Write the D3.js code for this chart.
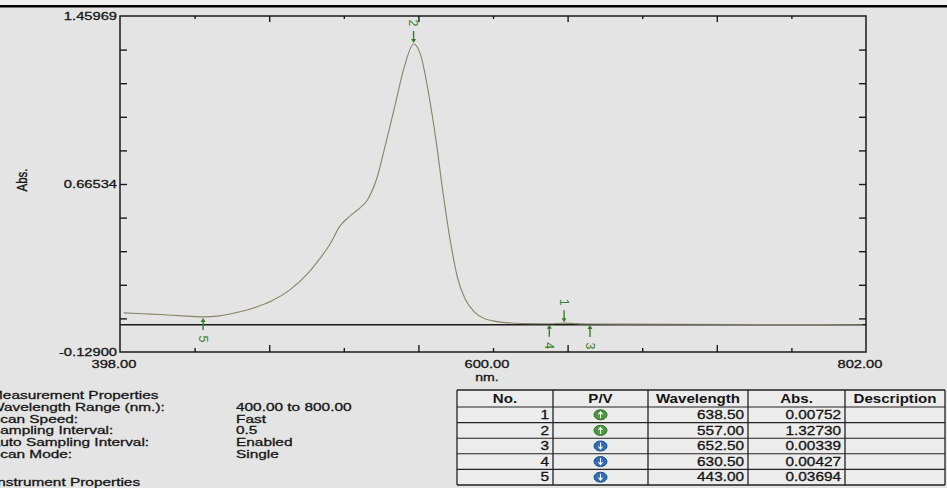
<!DOCTYPE html>
<html>
<head>
<meta charset="utf-8">
<script src="https://cdn.jsdelivr.net/npm/d3@7"></script>
<style>
  body { margin: 0; background: #e4e4e4; }
  svg { display: block; }
  text { font-family: "Liberation Sans", Arial, sans-serif; fill: #151515; }
  .lbl { font-size: 11.5px; stroke: #151515; stroke-width: 0.3px; }
  .mark { fill: #347f26; font-size: 12.5px; }
</style>
</head>
<body>
<div id="chart"></div>
<script>
// spectrum
var wavelengths = [400, 410, 420, 430, 443, 452, 460, 470, 480, 490, 500, 506, 512, 517, 522, 527, 532, 537, 542, 547, 552, 557, 561, 565, 569, 573, 577, 581, 585, 590, 595, 600, 605, 610, 620, 630.5, 638.5, 645, 652.5, 670, 700, 750, 800];
var absorbance  = [0.056, 0.052, 0.048, 0.043, 0.037, 0.042, 0.055, 0.078, 0.112, 0.165, 0.245, 0.31, 0.385, 0.465, 0.51, 0.545, 0.59, 0.69, 0.86, 1.04, 1.22, 1.327, 1.27, 1.10, 0.88, 0.62, 0.39, 0.215, 0.12, 0.06, 0.03, 0.018, 0.011, 0.008, 0.005, 0.00427, 0.00752, 0.005, 0.00339, 0.003, 0.002, 0.001, 0.0];

// peak / valley table
var pvNo = [1, 2, 3, 4, 5];
var pvType = ['P', 'P', 'V', 'V', 'V'];
var pvWavelength = [638.50, 557.00, 652.50, 630.50, 443.00];
var pvAbs = [0.00752, 1.32730, 0.00339, 0.00427, 0.03694];
var tableHeaders = ['No.', 'P/V', 'Wavelength', 'Abs.', 'Description'];

var xTickLabels = [398.00, 600.00, 802.00];
var yTickLabels = [1.45969, 0.66534, -0.12900];

var propLabels = ['Measurement Properties', 'Wavelength Range (nm.):', 'Scan Speed:', 'Sampling Interval:', 'Auto Sampling Interval:', 'Scan Mode:'];
var propValues = ['', '400.00 to 800.00', 'Fast', '0.5', 'Enabled', 'Single'];

var width = 947;
var height = 488;
var mLeft = 120, mRight = 866, mTop = 16, mBottom = 352;
var ink = '#1a1a1a';
var green = '#347f26';

var x = d3.scaleLinear().domain([398, 802]).range([mLeft, mRight]);
var y = d3.scaleLinear().domain([-0.129, 1.45969]).range([mBottom, mTop]);

// plain hyphen for negatives, like the instrument printout
var fmt = d3.formatLocale({decimal: '.', thousands: ',', grouping: [3], currency: ['', ''], minus: '-'}).format;

// the scan is stretched sideways, so text gets a horizontal scale
function at(px, py, sx) {
    return 'translate(' + px + ',' + py + ') scale(' + sx + ',1)';
}

var svg = d3.select('#chart')
    .append('svg')
    .attr('width', width)
    .attr('height', height);

// scanner edge
svg.append('rect').attr('x', 0).attr('y', 0).attr('width', width).attr('height', 5).attr('fill', '#f0f0f0');
svg.append('rect').attr('x', 0).attr('y', 5).attr('width', width).attr('height', 2.5).attr('fill', '#000');

// frame
svg.append('rect')
    .attr('x', mLeft).attr('y', mTop)
    .attr('width', mRight - mLeft).attr('height', mBottom - mTop)
    .attr('fill', 'none').attr('stroke', ink).attr('stroke-width', 1.5);

var xDiv = d3.range(1, 10).map(function (i) { return 398 + i * 40.4; });
var yDiv = d3.range(1, 10).map(function (i) { return -0.129 + i * 0.158869; });
var xLong = xDiv.filter(function (d, i) { return i % 2 === 1; });
var xShort = xDiv.filter(function (d, i) { return i % 2 === 0; });

function styleAxis(g) {
    g.select('.domain').remove();
    g.selectAll('.tick line').attr('stroke', ink).attr('stroke-width', 1.4);
    g.selectAll('.tick text').remove();
}

svg.append('g').attr('transform', 'translate(0,' + mBottom + ')')
    .call(d3.axisBottom(x).tickValues(xLong).tickSize(-7)).call(styleAxis);
svg.append('g').attr('transform', 'translate(0,' + mBottom + ')')
    .call(d3.axisBottom(x).tickValues(xShort).tickSize(-4)).call(styleAxis);
svg.append('g').attr('transform', 'translate(0,' + mTop + ')')
    .call(d3.axisTop(x).tickValues(xLong).tickSize(-6)).call(styleAxis);
svg.append('g').attr('transform', 'translate(0,' + mTop + ')')
    .call(d3.axisTop(x).tickValues(xShort).tickSize(-3)).call(styleAxis);
svg.append('g').attr('transform', 'translate(' + mLeft + ',0)')
    .call(d3.axisLeft(y).tickValues(yDiv).tickSize(-7)).call(styleAxis);
svg.append('g').attr('transform', 'translate(' + mRight + ',0)')
    .call(d3.axisRight(y).tickValues(yDiv).tickSize(-7)).call(styleAxis);

// zero line
svg.append('line')
    .attr('x1', mLeft).attr('x2', mRight)
    .attr('y1', y(0)).attr('y2', y(0))
    .attr('stroke', ink).attr('stroke-width', 1.4);

// axis labels
svg.selectAll('.ylab').data(yTickLabels).enter().append('text')
    .attr('class', 'lbl ylab')
    .attr('transform', function (d) { return at(mLeft - 3, y(d) + 4, 1.28); })
    .attr('text-anchor', 'end')
    .text(fmt('.5f'));
svg.selectAll('.xlab').data(xTickLabels).enter().append('text')
    .attr('class', 'lbl xlab')
    .attr('transform', function (d) { return at(x(d) - 6, mBottom + 16, 1.28); })
    .attr('text-anchor', 'middle')
    .text(fmt('.2f'));
svg.append('text').attr('class', 'lbl')
    .attr('transform', at(x(600) - 6, mBottom + 29, 1.28))
    .attr('text-anchor', 'middle').style('font-size', '11px').text('nm.');
svg.append('text').attr('class', 'lbl')
    .attr('transform', 'translate(27,180) rotate(-90) scale(1,1.25)')
    .attr('text-anchor', 'middle').style('font-size', '11.5px').text('Abs.');

// spectrum
var data = wavelengths.map(function (w, i) { return {wl: w, abs: absorbance[i]}; });
var line = d3.line()
    .x(function (d) { return x(d.wl); })
    .y(function (d) { return y(d.abs); })
    .curve(d3.curveMonotoneX);
svg.append('path')
    .datum(data)
    .attr('d', line)
    .attr('fill', 'none')
    .attr('stroke', '#858766')
    .attr('stroke-width', 1.1);

// peak / valley markers
var marks = pvNo.map(function (n, i) { return {no: n, type: pvType[i], wl: pvWavelength[i], abs: pvAbs[i]}; });
var mg = svg.selectAll('.pv').data(marks).enter().append('g')
    .attr('class', 'pv')
    .attr('transform', function (d) { return 'translate(' + x(d.wl) + ',' + y(d.abs) + ')'; });
mg.append('line')
    .attr('x1', 0).attr('x2', 0)
    .attr('y1', function (d) { return d.type === 'P' ? -13 : 13; })
    .attr('y2', function (d) { return d.type === 'P' ? -3 : 3; })
    .attr('stroke', green).attr('stroke-width', 1.4);
mg.append('path')
    .attr('d', function (d) { return d.type === 'P' ? 'M-2.5,-5L2.5,-5L0,-1Z' : 'M-2.5,5L2.5,5L0,1Z'; })
    .attr('fill', green);
mg.append('text')
    .attr('class', 'mark')
    .attr('transform', function (d) { return 'translate(0,' + (d.type === 'P' ? -21 : 22) + ') rotate(90)'; })
    .attr('text-anchor', 'middle')
    .attr('dy', '0.35em')
    .text(function (d) { return d.no; });

// measurement properties
var props = svg.append('g');
props.selectAll('.plab').data(propLabels).enter().append('text')
    .attr('class', 'lbl plab')
    .attr('transform', function (d, i) { return at(-10, 399 + i * 11.8, 1.34); })
    .text(function (d) { return d; });
props.selectAll('.pval').data(propValues).enter().append('text')
    .attr('class', 'lbl pval')
    .attr('transform', function (d, i) { return at(236, 399 + i * 11.8, 1.34); })
    .text(function (d) { return d; });
props.append('text').attr('class', 'lbl')
    .attr('transform', at(-7, 486, 1.34)).text('Instrument Properties');

// table
var colX = [457, 553, 648, 748, 845, 945];
var headTop = 390, headH = 17, rowH = 15.6;
var tbl = svg.append('g');
tbl.append('rect')
    .attr('x', colX[0]).attr('y', headTop)
    .attr('width', colX[5] - colX[0]).attr('height', headH + rowH * marks.length)
    .attr('fill', '#ececec');
d3.range(0, marks.length + 2).forEach(function (r) {
    var yy = r === 0 ? headTop : headTop + headH + (r - 1) * rowH;
    tbl.append('line').attr('x1', colX[0]).attr('x2', colX[5])
        .attr('y1', yy).attr('y2', yy)
        .attr('stroke', '#222').attr('stroke-width', r === 0 || r === marks.length + 1 ? 1.4 : 1.1);
});
colX.forEach(function (cx) {
    tbl.append('line').attr('x1', cx).attr('x2', cx)
        .attr('y1', headTop).attr('y2', headTop + headH + rowH * marks.length)
        .attr('stroke', '#222').attr('stroke-width', 1.3);
});
tbl.selectAll('.th').data(tableHeaders).enter().append('text')
    .attr('class', 'th')
    .attr('transform', function (d, i) { return at((colX[i] + colX[i + 1]) / 2, headTop + 12.5, 1.26); })
    .attr('text-anchor', 'middle')
    .style('font-size', '12px').style('font-weight', 'bold')
    .text(function (d) { return d; });
var rows = tbl.selectAll('.tr').data(marks).enter().append('g')
    .attr('class', 'tr')
    .attr('transform', function (d, i) { return 'translate(0,' + (headTop + headH + i * rowH) + ')'; });
rows.append('text').attr('class', 'lbl')
    .attr('transform', at(colX[1] - 4, 12, 1.28)).attr('text-anchor', 'end')
    .style('font-size', '12px')
    .text(function (d) { return d.no; });
rows.append('text').attr('class', 'lbl')
    .attr('transform', at(colX[3] - 4, 12, 1.28)).attr('text-anchor', 'end')
    .style('font-size', '12px')
    .text(function (d) { return fmt('.2f')(d.wl); });
rows.append('text').attr('class', 'lbl')
    .attr('transform', at(colX[4] - 4, 12, 1.28)).attr('text-anchor', 'end')
    .style('font-size', '12px')
    .text(function (d) { return fmt('.5f')(d.abs); });
var ic = rows.append('g').attr('transform', 'translate(' + (colX[1] + colX[2]) / 2 + ',' + rowH / 2 + ')');
ic.append('ellipse').attr('rx', 6.5).attr('ry', 5)
    .attr('fill', function (d) { return d.type === 'P' ? '#4a9a3c' : '#2f6fb5'; })
    .attr('stroke', function (d) { return d.type === 'P' ? '#2e6a25' : '#1d4f88'; });
ic.append('path')
    .attr('d', function (d) { return d.type === 'P' ? 'M0,3.5L0,-2.5M-2,-0.5L0,-3L2,-0.5' : 'M0,-3.5L0,2.5M-2,0.5L0,3L2,0.5'; })
    .attr('stroke', '#fff').attr('stroke-width', 1.1).attr('fill', 'none');
</script>
</body>
</html>
